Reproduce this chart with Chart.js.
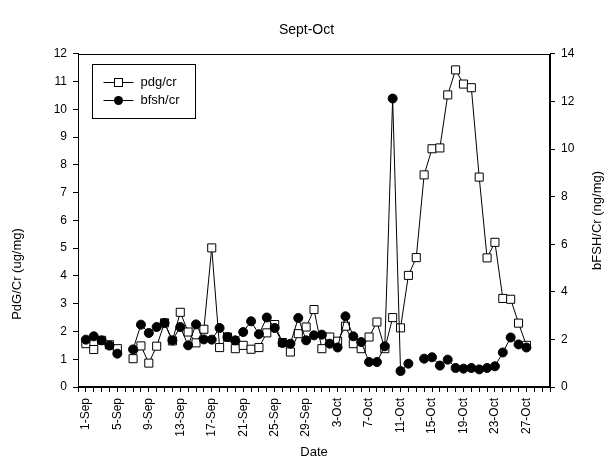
<!DOCTYPE html>
<html><head><meta charset="utf-8">
<script src="https://cdn.jsdelivr.net/npm/chart.js@4/dist/chart.umd.min.js"></script>
<style>html,body{margin:0;padding:0;background:#fff}#wrap{width:613px;height:470px}</style>
</head><body><div id="wrap"><canvas id="c" width="613" height="470"></canvas></div>
<script>
const dates = ['31-Aug',
 '1-Sep','2-Sep','3-Sep','4-Sep','5-Sep','6-Sep','7-Sep','8-Sep','9-Sep','10-Sep',
 '11-Sep','12-Sep','13-Sep','14-Sep','15-Sep','16-Sep','17-Sep','18-Sep','19-Sep','20-Sep',
 '21-Sep','22-Sep','23-Sep','24-Sep','25-Sep','26-Sep','27-Sep','28-Sep','29-Sep','30-Sep',
 '1-Oct','2-Oct','3-Oct','4-Oct','5-Oct','6-Oct','7-Oct','8-Oct','9-Oct','10-Oct',
 '11-Oct','12-Oct','13-Oct','14-Oct','15-Oct','16-Oct','17-Oct','18-Oct','19-Oct','20-Oct',
 '21-Oct','22-Oct','23-Oct','24-Oct','25-Oct','26-Oct','27-Oct','28-Oct','29-Oct','30-Oct'];

const pdgCr = [null,
 1.56,1.35,1.68,1.52,1.38,null,1.02,1.48,0.86,1.47,
 2.31,1.66,2.69,1.98,1.59,2.08,5.01,1.42,1.80,1.38,
 1.50,1.36,1.42,1.95,2.25,1.60,1.26,1.92,2.16,2.79,
 1.38,1.80,1.65,2.19,1.56,1.38,1.80,2.34,1.38,2.50,
 2.13,4.02,4.66,7.64,8.58,8.61,10.52,11.42,10.91,10.78,
 7.56,4.65,5.21,3.19,3.16,2.30,1.50,
 null,null,null];

const bfshCr = [null,
 1.99,2.13,1.96,1.74,1.40,null,1.58,2.62,2.27,2.52,
 2.69,1.96,2.52,1.75,2.63,2.00,1.99,2.48,2.10,1.96,
 2.31,2.76,2.22,2.92,2.48,1.85,1.82,2.90,1.96,2.17,
 2.20,1.82,1.66,2.97,2.13,1.89,1.05,1.05,1.71,12.12,
 0.67,0.98,null,1.19,1.25,0.90,1.15,0.80,0.77,0.80,
 0.74,0.80,0.87,1.45,2.08,1.79,1.66,
 null,null,null];

const seriesNames = ['pdg/cr','bfsh/cr'];
const titleText = 'Sept-Oct';
const xTitle = 'Date';
const leftTitle = 'PdG/Cr (ug/mg)';
const rightTitle = 'bFSH/Cr (ng/mg)';

const FONT = 'Liberation Sans, Arial, sans-serif';
Chart.defaults.font.family = FONT;
Chart.defaults.color = '#000';

const framePlugin = {
  id: 'frame',
  beforeDatasetsDraw(chart) {
    const a = chart.chartArea, ctx = chart.ctx;
    ctx.save();
    ctx.strokeStyle = '#000'; ctx.lineWidth = 1;
    ctx.strokeRect(Math.round(a.left) + 0.5, Math.round(a.top) + 0.5,
      Math.round(a.right - a.left) - 1, Math.round(a.bottom - a.top) - 1);
    ctx.restore();
  }
};

const decorPlugin = {
  id: 'decor',
  afterDraw(chart) {
    const ctx = chart.ctx, a = chart.chartArea;
    ctx.save();
    ctx.fillStyle = '#000';
    ctx.font = '13px ' + FONT;
    ctx.textAlign = 'center'; ctx.textBaseline = 'middle';
    ctx.save(); ctx.translate(17, 274); ctx.rotate(-Math.PI / 2); ctx.fillText(leftTitle, 0, 0); ctx.restore();
    ctx.save(); ctx.translate(597, (a.top + a.bottom) / 2); ctx.rotate(-Math.PI / 2); ctx.fillText(rightTitle, 0, 0); ctx.restore();

    const bx = Math.round(a.left) + 14.5, by = Math.round(a.top) + 10.5;
    ctx.strokeStyle = '#000'; ctx.lineWidth = 1;
    ctx.strokeRect(bx, by, 103, 54);
    chart.data.datasets.forEach((ds, k) => {
      const y = by + 18 + k * 18;
      const x0 = bx + 11, x1 = bx + 41, xm = (x0 + x1) / 2;
      ctx.beginPath(); ctx.moveTo(x0, y); ctx.lineTo(x1, y); ctx.stroke();
      if (ds.pointStyle === 'rect') {
        ctx.fillStyle = '#fff';
        ctx.fillRect(xm - 4, y - 4, 8, 8);
        ctx.strokeRect(xm - 4, y - 4, 8, 8);
      } else {
        ctx.fillStyle = '#000';
        ctx.beginPath(); ctx.arc(xm, y, 4.5, 0, Math.PI * 2); ctx.fill();
      }
      ctx.fillStyle = '#000';
      ctx.font = '13px ' + FONT;
      ctx.textAlign = 'left'; ctx.textBaseline = 'middle';
      ctx.fillText(ds.label, bx + 48, y);
    });
    ctx.restore();
  }
};

new Chart(document.getElementById('c'), {
  type: 'line',
  data: {
    labels: dates,
    datasets: [
      { label: seriesNames[0], data: pdgCr, yAxisID: 'y', order: 2,
        borderColor: '#000', borderWidth: 1, pointStyle: 'rect', pointRadius: 5.7,
        pointBackgroundColor: '#fff', pointBorderColor: '#000', pointBorderWidth: 1,
        tension: 0, spanGaps: false },
      { label: seriesNames[1], data: bfshCr, yAxisID: 'y1', order: 1,
        borderColor: '#000', borderWidth: 1, pointStyle: 'circle', pointRadius: 4.5,
        pointBackgroundColor: '#000', pointBorderColor: '#000', pointBorderWidth: 1,
        tension: 0, spanGaps: false }
    ]
  },
  options: {
    responsive: false, animation: false, devicePixelRatio: 1,
    layout: { padding: 0 },
    plugins: {
      legend: { display: false }, tooltip: { enabled: false },
      title: { display: true, text: titleText, color: '#000',
        font: { size: 14, weight: 'normal', family: FONT },
        padding: { top: 22, bottom: 15 } }
    },
    scales: {
      x: {
        type: 'category', offset: false,
        grid: { display: true, drawOnChartArea: false, drawTicks: true, tickLength: 5, color: '#000' },
        border: { display: true, color: '#000' },
        ticks: { autoSkip: false, maxRotation: 90, minRotation: 90, padding: 6, color: '#000',
          font: { size: 12 },
          callback: (v, i) => (i >= 1 && (i - 1) % 4 === 0) ? dates[i] : '' },
        title: { display: true, text: xTitle, color: '#000', font: { size: 13 }, padding: { top: 0, bottom: 10 } },
        afterFit: s => { s.height = 83; }
      },
      y: {
        type: 'linear', position: 'left', min: 0, max: 12,
        grid: { display: true, drawOnChartArea: false, drawTicks: true, tickLength: 5, color: '#000' },
        border: { display: true, color: '#000' },
        ticks: { stepSize: 1, padding: 6, color: '#000', font: { size: 12 } },
        afterFit: s => { s.width = 78; }
      },
      y1: {
        type: 'linear', position: 'right', min: 0, max: 14,
        grid: { display: true, drawOnChartArea: false, drawTicks: true, tickLength: 5, color: '#000' },
        border: { display: true, color: '#000' },
        ticks: { stepSize: 2, padding: 6, color: '#000', font: { size: 12 } },
        afterFit: s => { s.width = 63; }
      }
    }
  },
  plugins: [framePlugin, decorPlugin]
});
</script>
</body></html>
